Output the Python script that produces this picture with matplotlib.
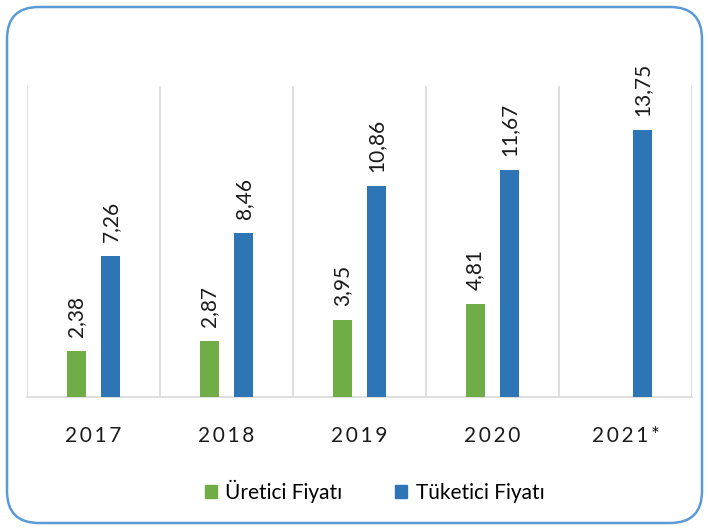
import matplotlib.pyplot as plt
import numpy as np
from matplotlib.patches import FancyBboxPatch, Patch

years = ["2017", "2018", "2019", "2020", "2021*"]
uretici = [2.38, 2.87, 3.95, 4.81, None]
tuketici = [7.26, 8.46, 10.86, 11.67, 13.75]

green = "#70ad47"
blue = "#2e75b6"

plt.rcParams["font.family"] = ["Lato", "DejaVu Sans"]

fig = plt.figure(figsize=(7.08, 5.29), dpi=100)
ax = fig.add_axes([27 / 708, 1 - 397 / 529, (692 - 27) / 708, (397 - 86) / 529])

x = np.arange(len(years))
width = 0.14
off = 0.13


def fmt(v):
    return f"{v:.2f}".replace(".", ",")


for i, v in enumerate(uretici):
    if v is None:
        continue
    ax.bar(x[i] - off, v, width, color=green, zorder=3)
    ax.text(x[i] - off, v + 0.72, fmt(v), rotation=90, ha="center", va="bottom",
            fontsize=15, color="#1a1a1a")
for i, v in enumerate(tuketici):
    ax.bar(x[i] + off, v, width, color=blue, zorder=3)
    ax.text(x[i] + off, v + 0.72, fmt(v), rotation=90, ha="center", va="bottom",
            fontsize=15, color="#1a1a1a")

ax.set_xlim(-0.5, len(years) - 0.5)
ax.set_ylim(0, 16)
ax.set_yticks([])
ax.set_xticks(x)
ax.set_xticklabels(["\u2009".join(y) for y in years], fontsize=15, color="#1a1a1a")
ax.tick_params(axis="x", length=0, pad=21)
ax.set_xticks(np.arange(-0.5, len(years), 1.0), minor=True)
ax.tick_params(axis="x", which="minor", length=0)
ax.grid(True, axis="x", which="minor", color="#d9d9d9", linewidth=1.2, zorder=0)
for s in ["top", "left", "right"]:
    ax.spines[s].set_visible(False)
ax.spines["bottom"].set_color("#d9d9d9")
ax.spines["bottom"].set_linewidth(1.2)

handles = [Patch(color=green, label="Üretici Fiyatı"), Patch(color=blue, label="Tüketici Fiyatı")]
fig.legend(handles=handles, loc="center", bbox_to_anchor=(0.529, 1 - 491 / 529), ncol=2,
           frameon=False, fontsize=15, handlelength=0.6, handleheight=0.6,
           columnspacing=2.5, handletextpad=0.4)

border = FancyBboxPatch((7 / 708, 6 / 529), 695 / 708, 516 / 529,
                        boxstyle="round,pad=0,rounding_size=0.045",
                        transform=fig.transFigure, facecolor="none",
                        edgecolor="#5b9bd5", linewidth=1.8, mutation_aspect=708 / 529)
fig.patches.append(border)

fig.savefig("out.png", dpi=100)
